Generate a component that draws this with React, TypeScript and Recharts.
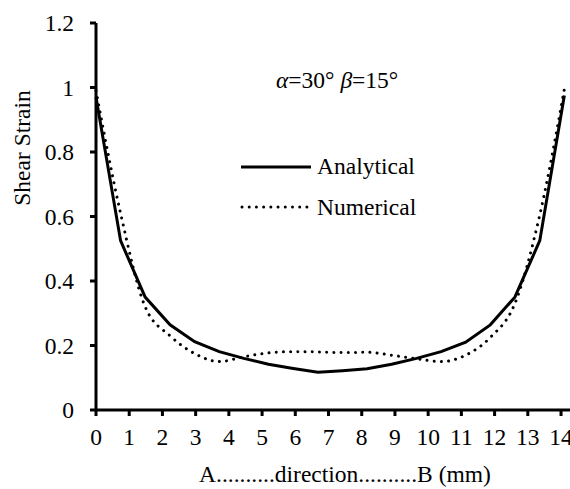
import React from 'react';
import { LineChart, Line, XAxis, YAxis, Legend } from 'recharts';

const xPositions = [0, 0.74, 1.48, 2.23, 2.97, 3.71, 4.45, 5.19, 5.94, 6.68, 7.42, 8.16, 8.9, 9.65, 10.39, 11.13, 11.87, 12.61, 13.36, 14.1];
const analytical = [0.97, 0.525, 0.35, 0.264, 0.212, 0.181, 0.16, 0.142, 0.129, 0.117, 0.122, 0.128, 0.142, 0.16, 0.181, 0.21, 0.264, 0.35, 0.525, 0.975];
const numerical = [0.99, 0.61, 0.32, 0.23, 0.175, 0.15, 0.165, 0.177, 0.181, 0.18, 0.178, 0.179, 0.17, 0.159, 0.15, 0.17, 0.225, 0.33, 0.605, 0.995];
const xTicks = [0, 1, 2, 3, 4, 5, 6, 7, 8, 9, 10, 11, 12, 13, 14];
const yTicks = [0, 0.2, 0.4, 0.6, 0.8, 1, 1.2];
const seriesNames = ['Analytical', 'Numerical'];

const data = xPositions.map((x, i) => ({ x, analytical: analytical[i], numerical: numerical[i] }));

const FONT = "'Liberation Serif', 'Times New Roman', Times, Tinos, 'Noto Serif', 'DejaVu Serif', FreeSerif, serif";
const FS = 23.5;

const LegendBox = () => (
  <div style={{ position: 'relative', width: 260, height: 170, fontFamily: FONT, fontSize: FS, color: '#000', lineHeight: '26px' }}>
    <div style={{ position: 'absolute', left: 46, top: 7, whiteSpace: 'nowrap' }}>
      <i>α</i>=30° <i>β</i>=15°
    </div>
    <svg style={{ position: 'absolute', left: 10, top: 103 }} width={72} height={8}>
      <line x1={1} y1={4} x2={71} y2={4} stroke="#000" strokeWidth={3} />
    </svg>
    <div style={{ position: 'absolute', left: 87, top: 93, whiteSpace: 'nowrap' }}>{seriesNames[0]}</div>
    <svg style={{ position: 'absolute', left: 10, top: 143 }} width={72} height={8}>
      <line x1={2} y1={4} x2={68} y2={4} stroke="#000" strokeWidth={3} strokeDasharray="0.01 7.2" strokeLinecap="round" />
    </svg>
    <div style={{ position: 'absolute', left: 87, top: 134, whiteSpace: 'nowrap' }}>{seriesNames[1]}</div>
  </div>
);

const YLabel = () => (
  <text x={22} y={148} transform="rotate(-90 22 148)" textAnchor="middle" dominantBaseline="central" style={{ fontFamily: FONT }} fontSize={FS} fill="#000">
    Shear Strain
  </text>
);

const XLabel = (props: any) => {
  const vb = props.viewBox || { x: 96, width: 474 };
  return (
    <text x={vb.x + vb.width / 2 + 12} y={474} textAnchor="middle" dominantBaseline="central" style={{ fontFamily: FONT }} fontSize={FS} fill="#000">
      A..........direction..........B (mm)
    </text>
  );
};

export default function App() {
  return (
    <div style={{ position: 'absolute', left: 0, top: 0, width: 570, height: 489, background: '#fff', fontFamily: FONT }}>
      <LineChart width={570} height={489} data={data} margin={{ top: 23, right: 0, bottom: 0, left: 0 }} style={{ fontFamily: FONT }}>
        <XAxis
          type="number"
          dataKey="x"
          domain={[0, 14.27]}
          ticks={xTicks}
          interval={0}
          height={79}
          axisLine={{ stroke: '#000', strokeWidth: 3 }}
          tickLine={{ stroke: '#000', strokeWidth: 3 }}
          tickSize={6}
          tickMargin={12}
          tick={{ fill: '#000', fontSize: FS, style: { fontFamily: FONT } }}
          label={<XLabel />}
        />
        <YAxis
          type="number"
          domain={[0, 1.2]}
          ticks={yTicks}
          interval={0}
          width={96}
          axisLine={{ stroke: '#000', strokeWidth: 3 }}
          tickLine={{ stroke: '#000', strokeWidth: 3 }}
          tickSize={6}
          tickMargin={16}
          tick={{ fill: '#000', fontSize: FS, style: { fontFamily: FONT } }}
          label={<YLabel />}
        />
        <Legend
          layout="vertical"
          align="center"
          verticalAlign="middle"
          content={<LegendBox />}
          wrapperStyle={{ left: 230, top: 60, width: 260, height: 170 }}
        />
        <Line type="linear" dataKey="analytical" name={seriesNames[0]} stroke="#000" strokeWidth={3} dot={false} isAnimationActive={false} />
        <Line type="monotone" dataKey="numerical" name={seriesNames[1]} stroke="#000" strokeWidth={3} strokeDasharray="0.01 7.2" strokeLinecap="round" dot={false} isAnimationActive={false} />
      </LineChart>
    </div>
  );
}
